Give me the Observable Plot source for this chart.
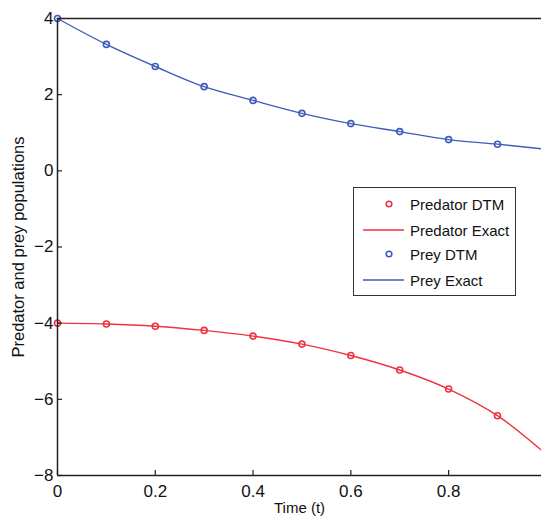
<!DOCTYPE html>
<html>
<head>
<meta charset="utf-8">
<script src="https://cdn.jsdelivr.net/npm/d3@7"></script>
<script src="https://cdn.jsdelivr.net/npm/@observablehq/plot@0.6"></script>
<style>
  html, body { margin: 0; padding: 0; background: #fff; }
  #wrap { position: relative; width: 541px; height: 521px; font-family: "Liberation Sans", Arial, sans-serif; }
  #legend { position: absolute; left: 353px; top: 187px; width: 161px; height: 107px; border: 1.5px solid #333; background: #fff; font-size: 15px; color: #111; }
  #legend .row { position: absolute; left: 0; height: 20px; display: flex; align-items: center; }
  #legend svg { width: 56px; height: 20px; }
</style>
</head>
<body>
<div id="wrap"></div>
<script>
const tDTM = [0, 0.1, 0.2, 0.3, 0.4, 0.5, 0.6, 0.7, 0.8, 0.9];
const predatorDTM = [-4.0, -4.02, -4.08, -4.19, -4.34, -4.55, -4.85, -5.23, -5.73, -6.43];
const preyDTM = [4.0, 3.32, 2.74, 2.21, 1.85, 1.51, 1.24, 1.03, 0.82, 0.70];
const tExact = [0, 0.1, 0.2, 0.3, 0.4, 0.5, 0.6, 0.7, 0.8, 0.9, 0.99];
const predatorExact = [-4.0, -4.02, -4.08, -4.19, -4.34, -4.55, -4.85, -5.23, -5.73, -6.43, -7.34];
const preyExact = [4.0, 3.32, 2.74, 2.21, 1.85, 1.51, 1.24, 1.03, 0.82, 0.70, 0.58];
const xTicks = [0, 0.2, 0.4, 0.6, 0.8];
const yTicks = [-8, -6, -4, -2, 0, 2, 4];
const seriesNames = ["Predator DTM", "Predator Exact", "Prey DTM", "Prey Exact"];

const RED = "#ee3340", BLUE = "#3d5cbc", AX = "#222";
const dtmPred = tDTM.map((t, i) => ({t, v: predatorDTM[i]}));
const dtmPrey = tDTM.map((t, i) => ({t, v: preyDTM[i]}));
const exPred = tExact.map((t, i) => ({t, v: predatorExact[i]}));
const exPrey = tExact.map((t, i) => ({t, v: preyExact[i]}));

const fmt = d => (d < 0 ? "\u2212" : "") + String(+Math.abs(d).toFixed(1));

const chart = Plot.plot({
  width: 541, height: 521,
  marginLeft: 57, marginRight: 0, marginTop: 18, marginBottom: 46,
  style: {fontFamily: "'Liberation Sans', Arial, sans-serif", fontSize: "17px", color: "#111", background: "#fff"},
  x: {domain: [0, 0.99], label: null},
  y: {domain: [-8, 4], label: null},
  marks: [
    Plot.line(exPrey, {x: "t", y: "v", stroke: BLUE, strokeWidth: 1.4, curve: "catmull-rom"}),
    Plot.line(exPred, {x: "t", y: "v", stroke: RED, strokeWidth: 1.4, curve: "catmull-rom"}),
    Plot.dot(dtmPrey, {x: "t", y: "v", r: 3, stroke: BLUE, strokeWidth: 1.6, fill: "none"}),
    Plot.dot(dtmPred, {x: "t", y: "v", r: 3, stroke: RED, strokeWidth: 1.6, fill: "none"}),
    Plot.axisX({ticks: xTicks, tickSize: -5, tickFormat: () => "", stroke: AX, strokeWidth: 1.2, label: null}),
    Plot.axisX({ticks: xTicks, tickSize: 0, tickPadding: 9, tickFormat: fmt, label: null}),
    Plot.axisY({ticks: yTicks, tickSize: -5, tickFormat: () => "", stroke: AX, strokeWidth: 1.2, label: null}),
    Plot.axisY({ticks: yTicks, tickSize: 0, tickPadding: 4, tickFormat: fmt, label: null}),
    Plot.ruleX([0], {stroke: AX, strokeWidth: 1.5}),
    Plot.ruleY([-8, 4], {stroke: AX, strokeWidth: 1.5}),
    Plot.text(["Time (t)"], {frameAnchor: "bottom", dy: 37, fontSize: 15, fill: "#111"}),
    Plot.text(["Predator and prey populations"], {frameAnchor: "left", textAnchor: "middle", dx: -39, dy: 0, rotate: -90, fontSize: 16.5, fill: "#111"})
  ]
});
const wrap = document.getElementById("wrap");
wrap.appendChild(chart);

// legend
const legend = document.createElement("div");
legend.id = "legend";
const rowTops = [6, 32, 56, 82];
seriesNames.forEach((name, i) => {
  const row = document.createElement("div");
  row.className = "row";
  row.style.top = rowTops[i] + "px";
  const color = i < 2 ? RED : BLUE;
  const isDot = i % 2 === 0;
  const sym = isDot
    ? `<circle cx="35" cy="10" r="2.8" fill="none" stroke="${color}" stroke-width="1.6"/>`
    : `<line x1="9" x2="50" y1="10" y2="10" stroke="${color}" stroke-width="1.4"/>`;
  row.innerHTML = `<svg viewBox="0 0 56 20">${sym}</svg><span>${name}</span>`;
  legend.appendChild(row);
});
wrap.appendChild(legend);
</script>
</body>
</html>
